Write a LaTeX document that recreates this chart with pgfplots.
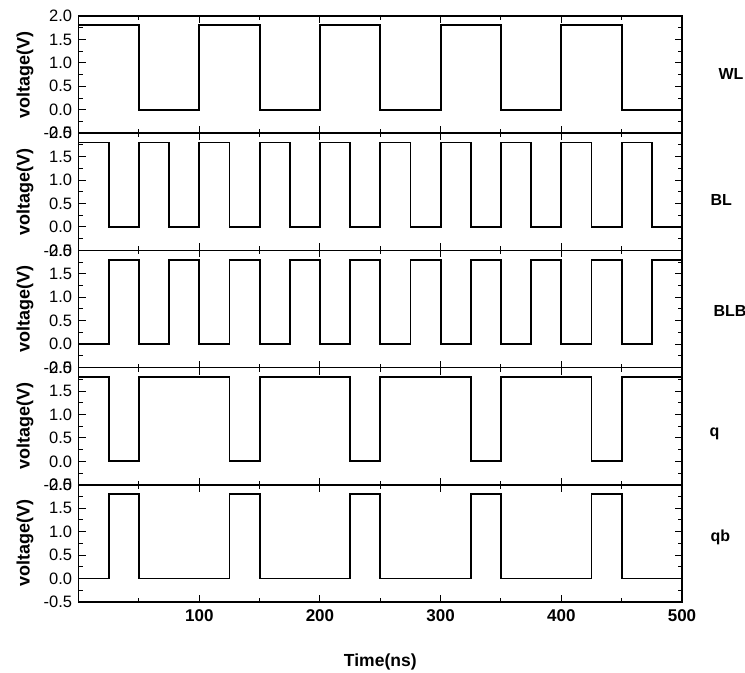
\documentclass[border=0pt]{standalone}
\usepackage{fontspec}
\setmainfont{Liberation Sans}
\usepackage{pgfplots}
\pgfplotsset{compat=1.18}
\pgfplotsset{
 panel/.style={
  scale only axis, width=603.4bp, height=117.2bp,
  xmin=0,xmax=500,ymin=-0.5,ymax=2.0,
  xtick={100,200,300,400,500}, minor xtick={50,150,250,350,450},
  ytick={-0.5,0,0.5,1,1.5,2}, minor ytick={-0.25,0.25,0.75,1.25,1.75},
  tick align=inside, major tick length=7bp, minor tick length=4bp,
  every tick/.style={black, line width=1bp},
  axis line style={line width=1.6bp},
  clip mode=individual,
  /pgf/number format/assume math mode=true,
  yticklabel style={font=\fontsize{16.5bp}{16.5bp}\selectfont, xshift=-3bp,
    /pgf/number format/fixed, /pgf/number format/fixed zerofill, /pgf/number format/precision=1},
  xticklabel style={font=\bfseries\fontsize{17bp}{17bp}\selectfont, yshift=-4bp},
  ylabel={voltage(V)},
  ylabel style={font=\bfseries\fontsize{18bp}{18bp}\selectfont, at={(axis description cs:-0.0888,0.5)}, anchor=center},
  anchor=north west,
 },
 sig/.style={black, line width=1.8bp, const plot, mark=none},
}
\tikzset{rlab/.style={anchor=base west, font=\bfseries\fontsize{16bp}{16bp}\selectfont}}
\begin{document}
\begin{tikzpicture}
\path[use as bounding box] (0,0) rectangle (745bp,673bp);
% WL
\begin{axis}[panel, at={(78.6bp,657bp)}, xticklabels={}]
\addplot[sig] coordinates {(0,1.8) (50,0) (100,1.8) (150,0) (200,1.8) (250,0) (300,1.8) (350,0) (400,1.8) (450,0) (500,0)};
\node[rlab] at (axis description cs:1.0547,0.454) {WL};
\end{axis}
% BL
\begin{axis}[panel, at={(78.6bp,539.8bp)}, xticklabels={}]
\addplot[sig] coordinates {(0,1.8) (25,0) (50,1.8) (75,0) (100,1.8) (125,0) (150,1.8) (175,0) (200,1.8) (225,0) (250,1.8) (275,0) (300,1.8) (325,0) (350,1.8) (375,0) (400,1.8) (425,0) (450,1.8) (475,0) (500,0)};
\node[rlab] at (axis description cs:1.0414,0.387) {BL};
\end{axis}
% BLB
\begin{axis}[panel, at={(78.6bp,422.6bp)}, xticklabels={}]
\addplot[sig] coordinates {(0,0) (25,1.8) (50,0) (75,1.8) (100,0) (125,1.8) (150,0) (175,1.8) (200,0) (225,1.8) (250,0) (275,1.8) (300,0) (325,1.8) (350,0) (375,1.8) (400,0) (425,1.8) (450,0) (475,1.8) (500,1.8)};
\node[rlab] at (axis description cs:1.0464,0.434) {BLB};
\end{axis}
% q
\begin{axis}[panel, at={(78.6bp,305.4bp)}, xticklabels={}]
\addplot[sig] coordinates {(0,1.8) (25,0) (50,1.8) (125,0) (150,1.8) (225,0) (250,1.8) (325,0) (350,1.8) (425,0) (450,1.8) (500,1.8)};
\node[rlab] at (axis description cs:1.040,0.416) {q};
\end{axis}
% qb
\begin{axis}[panel, at={(78.6bp,188.2bp)},
  xlabel={Time(ns)},
  xlabel style={font=\bfseries\fontsize{17.5bp}{17.5bp}\selectfont, at={(axis description cs:0.5,-0.512)}, anchor=center}]
\addplot[sig] coordinates {(0,0) (25,1.8) (50,0) (125,1.8) (150,0) (225,1.8) (250,0) (325,1.8) (350,0) (425,1.8) (450,0) (500,0)};
\node[rlab] at (axis description cs:1.0414,0.514) {qb};
\end{axis}
\end{tikzpicture}
\end{document}
